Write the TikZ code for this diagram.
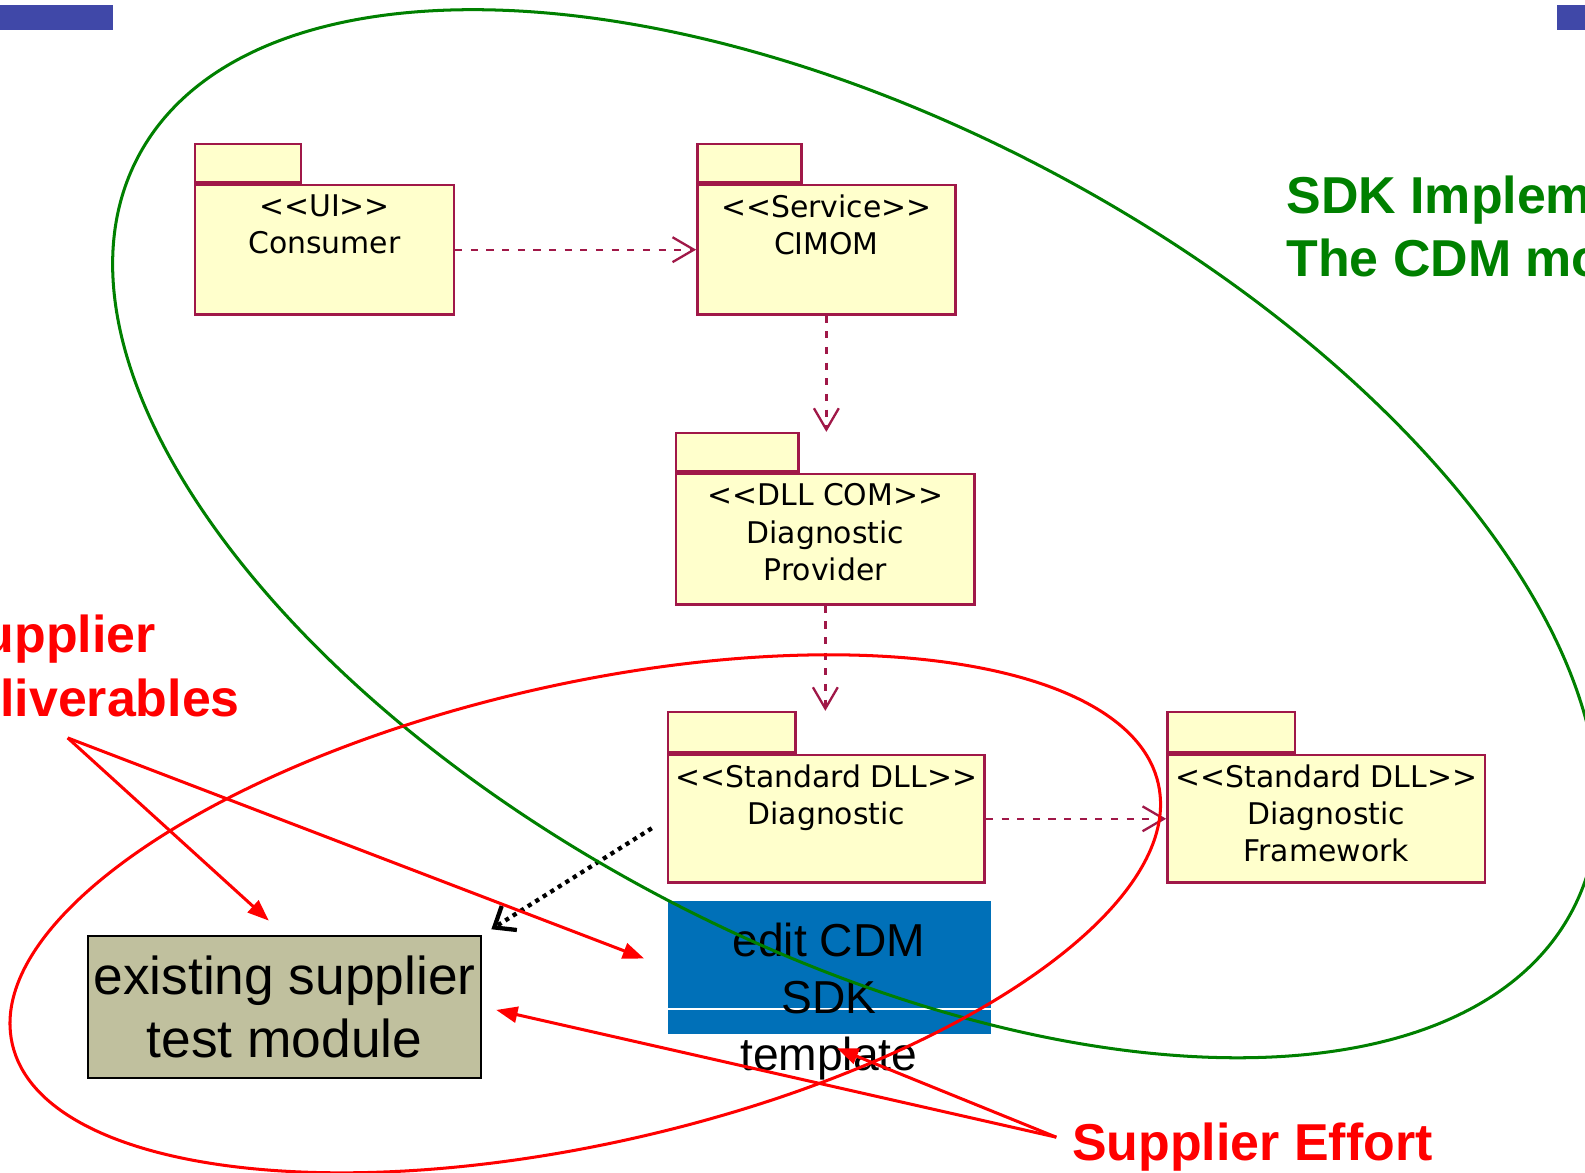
\documentclass[tikz,border=0pt]{standalone}
\usepackage{fontspec}
\setmainfont{Liberation Sans}
\newfontfamily\pkgfont{DejaVu Sans}
\usepackage{tikz}
\usetikzlibrary{arrows.meta}
\usepackage{xcolor}
\definecolor{pkgred}{RGB}{160,24,72}
\definecolor{pkgyellow}{RGB}{255,255,204}
\definecolor{barblue}{RGB}{64,72,168}
\definecolor{sdkblue}{RGB}{0,112,184}
\definecolor{khaki}{RGB}{192,192,158}
\definecolor{sdkgreen}{RGB}{0,128,0}
\tikzstyle{package} = [rectangle, draw=pkgred, fill=pkgyellow, line width=0.7pt, inner sep=0pt]
\tikzstyle{pkgtab} = [rectangle, draw=pkgred, fill=pkgyellow, line width=0.7pt, inner sep=0pt, minimum height=0.38cm, anchor=south west]
\tikzstyle{pkglabel} = [anchor=north, yshift=-0.1cm, align=center, inner sep=0pt, font=\pkgfont\fontsize{8.4}{10.5}\selectfont]
\tikzstyle{dep} = [draw=pkgred, line width=0.65pt, dash pattern=on 2pt off 2.4pt, -{Straight Barb[length=6pt,width=7pt]}]
\tikzstyle{redarrow} = [draw=red, line width=0.85pt, -{Triangle[length=6pt,width=4.5pt]}]
\tikzstyle{dotarrow} = [draw=black, line width=1.2pt, dash pattern=on 1.2pt off 1.3pt, -{Straight Barb[length=5pt,width=8pt,line width=1.2pt]}]
\tikzstyle{callout} = [inner sep=0pt, align=left, font=\bfseries\fontsize{14.6}{17.8}\selectfont]

\begin{document}
\begin{tikzpicture}[x=0.01cm, y=-0.01cm]
\useasboundingbox (0,0) rectangle (1568,1160);
\clip (0,0) rectangle (1568,1160);

% title bars
\fill[barblue] (0,5) rectangle (112,30);
\fill[barblue] (1540,5) rectangle (1568,30);

% Packages
\node (consumer) [package, minimum width=2.56cm, minimum height=1.28cm, label={[pkglabel]north:{<{}<UI>{}>\\Consumer}}] at (321,247) {};
\node (consumertab) [pkgtab, minimum width=1.05cm] at (consumer.north west) {};
\node (cimom) [package, minimum width=2.55cm, minimum height=1.28cm, label={[pkglabel]north:{<{}<Service>{}>\\CIMOM}}] at (817.5,247) {};
\node (cimomtab) [pkgtab, minimum width=1.03cm] at (cimom.north west) {};
\node (provider) [package, minimum width=2.95cm, minimum height=1.29cm, label={[pkglabel]north:{<{}<DLL COM>{}>\\Diagnostic\\Provider}}] at (816.5,533.5) {};
\node (providertab) [pkgtab, minimum width=1.21cm] at (provider.north west) {};
\node (diag) [package, minimum width=3.13cm, minimum height=1.26cm, label={[pkglabel]north:{<{}<Standard DLL>{}>\\Diagnostic}}] at (817.5,810) {};
\node (diagtab) [pkgtab, minimum width=1.26cm, minimum height=0.4cm] at (diag.north west) {};
\node (framework) [package, minimum width=3.14cm, minimum height=1.26cm, label={[pkglabel]north:{<{}<Standard DLL>{}>\\Diagnostic\\Framework}}] at (1312,810) {};
\node (frameworktab) [pkgtab, minimum width=1.26cm, minimum height=0.4cm] at (framework.north west) {};

% Dependencies
\draw[dep] (consumer) -- (cimom);
\draw[dep] (cimom) -- (cimom |- providertab.north);
\draw[dep] (provider) -- (provider |- diagtab.north);
\draw[dep] (diag) -- (framework);

% Supplier side
\node (sdk) [fill=sdkblue, minimum width=3.19cm, minimum height=1.32cm, inner sep=0pt] at (820.5,957) {};
\draw[white, line width=0.4pt] ([yshift=-0.41cm]sdk.west) -- ([yshift=-0.41cm]sdk.east);
\node (sdktext) [anchor=north, align=center, inner sep=0pt, font=\fontsize{13}{16.1}\selectfont] at (820,912) {edit CDM\\SDK\\template};
\node (existing) [draw=black, fill=khaki, line width=0.6pt, minimum width=3.89cm, minimum height=1.40cm, inner sep=0pt, align=center, font=\fontsize{15}{17.6}\selectfont] at (281.5,996) {existing supplier\\test module};

% Callouts
\node (sdkimpl) [callout, text=sdkgreen, anchor=north west] at (1272,173.5) {SDK Implem\\The CDM mo};
\node (deliverables) [callout, text=red, anchor=north west] at (-66,608) {\hspace*{0.14cm}Supplier\\Deliverables};
\node (effort) [callout, text=red, anchor=base west] at (1060,1148) {Supplier Effort};
\coordinate (delivfoot) at (67,730);
\coordinate (effortfoot) at (1045,1125);
\coordinate (templatetip) at (828,1037);

\draw[dotarrow, shorten <=5pt, shorten >=3pt] (diag.west) -- (existing.north east);

% Ellipses
\draw[sdkgreen, line width=0.85pt, rotate around={-27.7:(846,528)}] (846,528) ellipse [x radius=8.01cm, y radius=4.07cm];
\draw[red, line width=0.85pt, rotate around={12.8:(579,904)}] (579,904) ellipse [x radius=5.81cm, y radius=2.27cm];

% Arrows
\draw[redarrow, shorten >=6pt] (delivfoot) -- (existing.north);
\draw[redarrow, shorten >=7pt] (delivfoot) -- (sdk.west);
\draw[redarrow, shorten >=4pt] (effortfoot) -- (existing.east);
\draw[redarrow] (effortfoot) -- (templatetip);
\end{tikzpicture}
\end{document}
